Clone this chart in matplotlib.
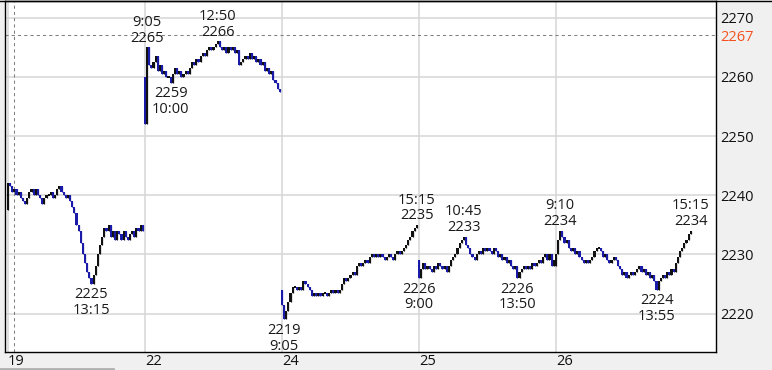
import numpy as np
import matplotlib
matplotlib.use("Agg")
import matplotlib.pyplot as plt
from matplotlib.lines import Line2D

plt.rcParams["font.family"] = ["Open Sans", "DejaVu Sans"]

# 5-minute bars, 64 per session (9:00-11:25, 12:30-15:15)
day_labels = ["19", "22", "24", "25", "26"]
day_open = [2237.5, 2260, 2224, 2229, 2228]

close_19 = [2242, 2241.5, 2240.5, 2241, 2240, 2240.5, 2239.5, 2239, 2238.5, 2239.5,
            2240.5, 2241, 2240, 2241, 2240, 2239.5, 2238.5, 2239.5, 2240, 2240,
            2240.5, 2239.5, 2240, 2241, 2241.5, 2240.5, 2240, 2239.5, 2240, 2239,
            2238, 2237, 2235, 2234, 2232, 2230, 2228.5, 2227, 2226, 2225,
            2226.5, 2228, 2230, 2231.5, 2233, 2234.5, 2234, 2235, 2233, 2234,
            2232.5, 2234, 2233.5, 2232.5, 2234, 2233, 2232.5, 2233.5, 2234, 2233,
            2234.5, 2234, 2235, 2234]
close_22 = [2252, 2265, 2262, 2261.5, 2262.5, 2263.5, 2261, 2262, 2260.5, 2261,
            2260, 2260, 2259, 2260.5, 2261.5, 2260.5, 2261, 2260, 2260.5, 2261,
            2260.5, 2261.5, 2262.5, 2262, 2263, 2262.5, 2263.5, 2264, 2263.5, 2264.5,
            2265, 2264.5, 2265, 2265.5, 2266, 2265, 2264.5, 2265, 2264, 2265,
            2264.5, 2265, 2264, 2264.5, 2262, 2262.5, 2263, 2263.5, 2263, 2264,
            2263, 2263.5, 2262.5, 2263, 2262, 2262.5, 2261, 2261.5, 2260.5, 2261,
            2259.5, 2259, 2258, 2257.5]
close_24 = [2221.5, 2219, 2220.5, 2222, 2223.5, 2224.5, 2224.5, 2224, 2224.5, 2224,
            2225.5, 2225, 2224.5, 2224, 2223, 2223.5, 2223, 2223.5, 2223, 2223.5,
            2223.5, 2223, 2223.5, 2224, 2223.5, 2224, 2223.5, 2224, 2225, 2226,
            2225.5, 2226, 2226.5, 2227, 2226.5, 2228, 2228.5, 2228, 2228.5, 2229,
            2228.5, 2229.5, 2230, 2229.5, 2230, 2229.5, 2230, 2229.5, 2229, 2229.5,
            2230, 2229.5, 2229, 2230, 2230.5, 2230, 2230.5, 2231, 2231.5, 2232.5,
            2233, 2234, 2234.5, 2235]
close_25 = [2226, 2227.5, 2228.5, 2227.5, 2228, 2227.5, 2227, 2228, 2227.5, 2228.5,
            2228, 2227.5, 2228, 2227, 2228, 2229, 2229.5, 2230, 2231, 2232,
            2232.5, 2233, 2231.5, 2231, 2230, 2229.5, 2229, 2230, 2230.5, 2230,
            2231, 2230.5, 2231, 2230.5, 2230, 2231, 2230.5, 2229.5, 2230, 2229,
            2229.5, 2228.5, 2229, 2228, 2227.5, 2228, 2226, 2227, 2227.5, 2228,
            2227.5, 2228, 2227.5, 2228.5, 2228, 2228.5, 2229, 2228.5, 2229.5, 2230,
            2229, 2230, 2228, 2229]
close_26 = [2230, 2232.5, 2234, 2233, 2232, 2232.5, 2231, 2230.5, 2231, 2230,
            2230.5, 2229.5, 2229, 2228.5, 2229, 2228.5, 2229, 2229.5, 2230.5, 2231,
            2231, 2230.5, 2229.5, 2230, 2229, 2228.5, 2229, 2229.5, 2229, 2228,
            2227.5, 2226.5, 2227, 2226, 2226.5, 2227, 2226.5, 2227, 2227.5, 2228,
            2227, 2227.5, 2226.5, 2227, 2226, 2226.5, 2225.5, 2224, 2225.5, 2226,
            2226.5, 2226, 2227, 2226.5, 2227.5, 2227, 2228.5, 2229.5, 2230.5, 2231,
            2232, 2232.5, 2233.5, 2234]

prev_close = 2267

# high / low markers
ann_day = [0, 1, 1, 1, 2, 2, 3, 3, 3, 4, 4, 4]
ann_bar = [39, 1, 12, 34, 1, 63, 0, 21, 46, 2, 47, 63]
ann_side = ["low", "high", "low", "high", "low", "high",
            "low", "high", "low", "high", "low", "high"]
ann_time = ["13:15", "9:05", "10:00", "12:50", "9:05", "15:15",
            "9:00", "10:45", "13:50", "9:10", "13:55", "15:15"]

days = [close_19, close_22, close_24, close_25, close_26]
per_day = len(close_19)

opens, closes = [], []
for first, cl in zip(day_open, days):
    opens += [first] + cl[:-1]
    closes += cl
o = np.array(opens)
c = np.array(closes)
k = np.arange(len(c))
lo = np.minimum(o, c)
hi = np.maximum(o, c)
up_col, dn_col = "#111111", "#1a1aa8"
cols = [up_col if cc >= oo else dn_col for oo, cc in zip(o, c)]

fig = plt.figure(figsize=(7.72, 3.70), dpi=100, facecolor="#f0f0f0")
ax = fig.add_axes([5 / 772, 18 / 370, 711 / 772, 351.5 / 370])
ax.set_facecolor("white")

# grid
for y in range(2220, 2271, 10):
    ax.axhline(y, color="#d6d6d6", lw=1.1, zorder=0)
day_starts = [i * per_day for i in range(len(days))]
for x in day_starts:
    ax.axvline(x, color="#d6d6d6", lw=1.1, zorder=0)
ax.axvline(3, color="#808080", lw=0.75, ls=(0, (3, 3)), zorder=1)
ax.axhline(prev_close, color="#808080", lw=0.75, ls=(0, (3, 3)), zorder=1)

# bars
ax.vlines(k, lo, hi, colors=cols, lw=0.9, zorder=2)
heights = np.maximum(hi - lo, 0.35)
bottoms = np.where(hi - lo < 0.35, c - 0.175, lo)
ax.bar(k, heights, bottom=bottoms, width=1.0, color=cols, lw=0, zorder=3)

# annotations
for d, b, side, t in zip(ann_day, ann_bar, ann_side, ann_time):
    idx = d * per_day + b
    if side == "high":
        ax.annotate(f"{t}\n{hi[idx]:.0f}", xy=(idx, hi[idx]), xytext=(0, 1),
                    textcoords="offset points", ha="center", va="bottom",
                    fontsize=10.5, linespacing=1.08, color="#1a1a1a", zorder=4)
    else:
        ax.annotate(f"{lo[idx]:.0f}\n{t}", xy=(idx, lo[idx]), xytext=(0, -2.5),
                    textcoords="offset points", ha="center", va="top",
                    fontsize=10.5, linespacing=1.08, color="#1a1a1a", zorder=4)

ax.set_xlim(-1.4, 330.8)
ax.set_ylim(2213.5, 2272.9)

ax.yaxis.tick_right()
yt = list(range(2220, 2271, 10)) + [prev_close]
ax.set_yticks(yt)
ax.set_yticklabels([str(v) for v in yt])
ax.tick_params(axis="y", length=0, pad=3, labelsize=10.5, colors="#111111")
ax.get_yticklabels()[-1].set_color("#f4511e")

ax.set_xticks(day_starts)
ax.set_xticklabels(day_labels)
ax.tick_params(axis="x", length=0, pad=1.5, labelsize=10.5, colors="#111111")
for lab in ax.get_xticklabels():
    lab.set_horizontalalignment("left")

for s in ax.spines.values():
    s.set_color("black")
    s.set_linewidth(1)

fig.add_artist(Line2D([0, 1], [1 - 0.5 / 370] * 2, transform=fig.transFigure,
                      color="black", lw=1))
fig.add_artist(Line2D([0, 113 / 772], [1.5 / 370] * 2, transform=fig.transFigure,
                      color="#b0b0b0", lw=2))

fig.savefig("out.png", dpi=100, facecolor=fig.get_facecolor())
plt.close(fig)
